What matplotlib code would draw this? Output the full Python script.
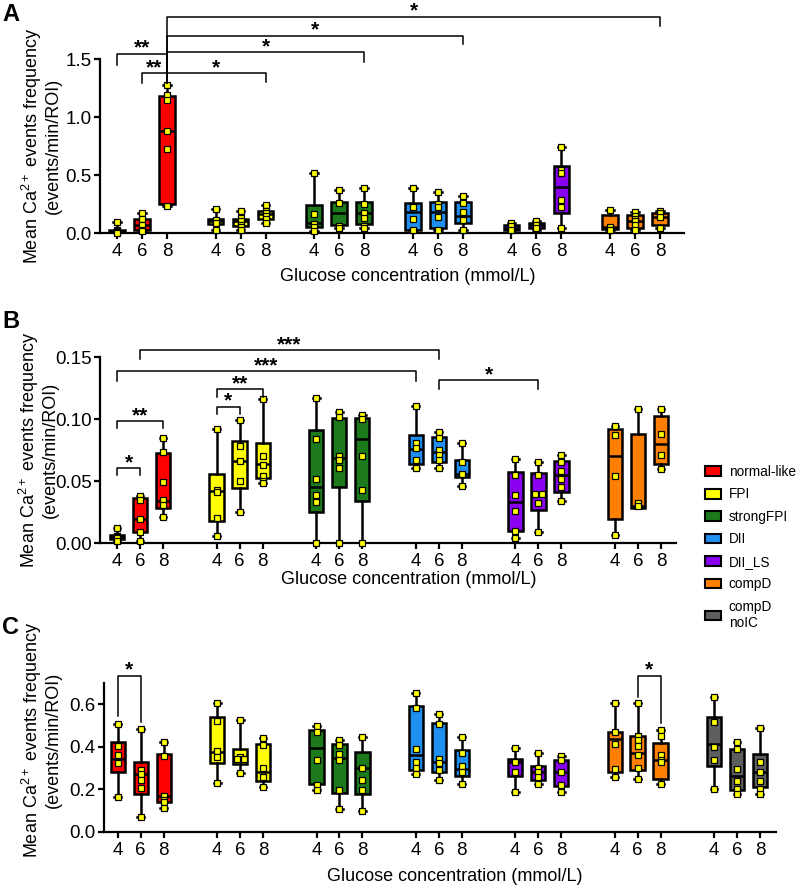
import matplotlib
matplotlib.use('Agg')
import matplotlib.pyplot as plt
from matplotlib.patches import Patch

plt.rcParams['font.family'] = ['Liberation Sans', 'DejaVu Sans']
plt.rcParams['mathtext.fontset'] = 'custom'
plt.rcParams['mathtext.rm'] = 'Liberation Sans'
plt.rcParams['mathtext.it'] = 'Liberation Sans:italic'
plt.rcParams['mathtext.bf'] = 'Liberation Sans:bold'

groups = ['normal-like', 'FPI', 'strongFPI', 'DII', 'DII_LS', 'compD', 'compD\nnoIC']
colors = ['#ff0000', '#ffff00', '#1c7a1c', '#1f8ff0', '#8a00f0', '#ff8000', '#5e5e5e']
conc = ['4', '6', '8']

# ---- panel A (6 groups x 3 glucose levels)
a_min = [0.0, 0.02, 0.23, 0.03, 0.03, 0.09, 0.02, 0.04, 0.04, 0.025, 0.025, 0.025, 0.025, 0.025, 0.04, 0.025, 0.025, 0.04]
a_q1 = [0.005, 0.03, 0.25, 0.08, 0.06, 0.125, 0.05, 0.07, 0.08, 0.03, 0.04, 0.083, 0.026, 0.043, 0.175, 0.032, 0.04, 0.072]
a_med = [0.015, 0.07, 0.88, 0.10, 0.10, 0.16, 0.09, 0.17, 0.17, 0.18, 0.18, 0.147, 0.045, 0.07, 0.40, 0.05, 0.10, 0.14]
a_q3 = [0.03, 0.125, 1.18, 0.12, 0.125, 0.19, 0.245, 0.27, 0.27, 0.255, 0.27, 0.265, 0.07, 0.089, 0.578, 0.155, 0.158, 0.175]
a_max = [0.095, 0.17, 1.28, 0.205, 0.19, 0.245, 0.52, 0.37, 0.39, 0.385, 0.355, 0.32, 0.089, 0.10, 0.744, 0.2, 0.18, 0.19]
a_pts = [[0.095, 0.03, 0.015, 0.005, 0.0], [0.17, 0.125, 0.07, 0.03, 0.02],
         [1.28, 1.19, 1.15, 0.88, 0.72, 0.23], [0.205, 0.11, 0.09, 0.03],
         [0.19, 0.13, 0.1, 0.07, 0.05, 0.03], [0.245, 0.19, 0.17, 0.15, 0.12, 0.09],
         [0.52, 0.165, 0.08, 0.05, 0.02], [0.37, 0.26, 0.06, 0.04],
         [0.39, 0.25, 0.17, 0.13, 0.06, 0.04], [0.385, 0.22, 0.12, 0.025],
         [0.355, 0.25, 0.22, 0.14, 0.025], [0.32, 0.26, 0.18, 0.11, 0.025],
         [0.089, 0.06, 0.03], [0.10, 0.07, 0.04],
         [0.744, 0.54, 0.52, 0.284, 0.222, 0.04], [0.2, 0.05, 0.03, 0.025],
         [0.18, 0.15, 0.12, 0.1, 0.07, 0.025], [0.19, 0.17, 0.14, 0.04]]
a_sig = [(0, 2, 1.545, 1.45, 1.29, '**'), (1, 2, 1.38, 1.29, 1.29, '**'),
         (2, 5, 1.38, 1.29, 1.30, '*'), (2, 8, 1.558, 1.29, 1.47, '*'),
         (2, 11, 1.70, 1.29, 1.627, '*'), (2, 17, 1.865, 1.29, 1.785, '*')]

# ---- panel B
b_min = [0.002, 0.002, 0.0206, 0.0059, 0.0246, 0.048, 0.0, 0.0, 0.0, 0.0603, 0.0603, 0.046, 0.004, 0.0088, 0.034, 0.0067, 0.028, 0.0597]
b_q1 = [0.0035, 0.0086, 0.028, 0.0174, 0.0447, 0.0522, 0.0246, 0.0455, 0.0335, 0.0638, 0.0656, 0.0536, 0.0094, 0.0268, 0.041, 0.0193, 0.028, 0.0635]
b_med = [0.0048, 0.019, 0.0335, 0.0423, 0.066, 0.0635, 0.045, 0.0683, 0.0838, 0.0758, 0.0737, 0.0555, 0.033, 0.0394, 0.0549, 0.0705, 0.03, 0.0798]
b_q3 = [0.0067, 0.036, 0.0723, 0.0555, 0.0825, 0.081, 0.091, 0.101, 0.1005, 0.087, 0.0852, 0.067, 0.0576, 0.0563, 0.066, 0.0916, 0.0876, 0.1023]
b_max = [0.012, 0.038, 0.085, 0.0916, 0.099, 0.1165, 0.117, 0.1058, 0.103, 0.1106, 0.0897, 0.0804, 0.0675, 0.065, 0.071, 0.094, 0.108, 0.108]
b_pts = [[0.012, 0.006, 0.005, 0.004, 0.002], [0.038, 0.035, 0.019, 0.009, 0.002],
         [0.085, 0.073, 0.049, 0.035, 0.031, 0.021], [0.0916, 0.043, 0.041, 0.02, 0.006],
         [0.099, 0.078, 0.066, 0.05, 0.025], [0.1165, 0.07, 0.063, 0.054, 0.05, 0.048],
         [0.117, 0.084, 0.052, 0.039, 0.033, 0.0], [0.106, 0.102, 0.0705, 0.067, 0.0603, 0.0],
         [0.103, 0.1, 0.0705, 0.043, 0.0], [0.1106, 0.0804, 0.077, 0.067, 0.0603],
         [0.0897, 0.085, 0.075, 0.071, 0.067, 0.0603], [0.0804, 0.065, 0.056, 0.046],
         [0.0675, 0.055, 0.039, 0.026, 0.01, 0.004], [0.065, 0.055, 0.0394, 0.0394, 0.032, 0.0088],
         [0.071, 0.065, 0.058, 0.052, 0.045, 0.034], [0.094, 0.087, 0.054, 0.0067],
         [0.108, 0.032, 0.0295], [0.108, 0.088, 0.071, 0.06]]
b_sig = [(0, 1, 0.0603, 0.055, 0.055, '*'), (0, 2, 0.0983, 0.0924, 0.0924, '**'),
         (3, 4, 0.1098, 0.104, 0.104, '*'), (3, 5, 0.124, 0.118, 0.118, '**'),
         (0, 9, 0.1385, 0.1307, 0.131, '***'), (1, 10, 0.1554, 0.148, 0.148, '***'),
         (10, 13, 0.1313, 0.124, 0.124, '*')]

# ---- panel C (7 groups)
c_min = [0.164, 0.07, 0.1125, 0.23, 0.277, 0.21, 0.195, 0.108, 0.1, 0.273, 0.245, 0.225, 0.186, 0.227, 0.19, 0.258, 0.248, 0.225, 0.2, 0.18, 0.18]
c_q1 = [0.284, 0.178, 0.139, 0.323, 0.319, 0.24, 0.2266, 0.183, 0.18, 0.292, 0.284, 0.261, 0.261, 0.245, 0.217, 0.281, 0.289, 0.248, 0.311, 0.198, 0.211]
c_med = [0.344, 0.272, 0.167, 0.378, 0.344, 0.28, 0.394, 0.347, 0.303, 0.3625, 0.331, 0.297, 0.33, 0.28, 0.281, 0.4375, 0.373, 0.339, 0.414, 0.264, 0.28]
c_q3 = [0.422, 0.331, 0.367, 0.539, 0.389, 0.4125, 0.48, 0.414, 0.378, 0.594, 0.514, 0.386, 0.344, 0.311, 0.336, 0.469, 0.452, 0.42, 0.539, 0.389, 0.366]
c_max = [0.506, 0.483, 0.422, 0.608, 0.527, 0.44, 0.498, 0.43, 0.448, 0.652, 0.553, 0.448, 0.394, 0.373, 0.359, 0.608, 0.608, 0.477, 0.633, 0.422, 0.49]
c_pts = [[0.506, 0.406, 0.36, 0.323, 0.164], [0.483, 0.289, 0.272, 0.242, 0.206, 0.07],
         [0.422, 0.358, 0.17, 0.15, 0.14, 0.1125], [0.608, 0.523, 0.38, 0.352, 0.23],
         [0.527, 0.352, 0.345, 0.345, 0.277], [0.44, 0.41, 0.3, 0.26, 0.21],
         [0.498, 0.469, 0.339, 0.22, 0.195], [0.43, 0.41, 0.367, 0.34, 0.198, 0.108],
         [0.448, 0.303, 0.245, 0.195, 0.1], [0.652, 0.581, 0.39, 0.327, 0.3, 0.273],
         [0.553, 0.508, 0.342, 0.323, 0.29, 0.245], [0.448, 0.373, 0.308, 0.28, 0.225],
         [0.394, 0.327, 0.281, 0.186], [0.373, 0.3, 0.28, 0.26, 0.227],
         [0.359, 0.34, 0.28, 0.22, 0.19], [0.608, 0.47, 0.4125, 0.297, 0.258],
         [0.608, 0.45, 0.43, 0.406, 0.36, 0.3, 0.248], [0.477, 0.45, 0.36, 0.34, 0.33, 0.225],
         [0.633, 0.516, 0.4, 0.34, 0.2], [0.422, 0.39, 0.295, 0.2375, 0.2, 0.18],
         [0.49, 0.328, 0.28, 0.24, 0.2, 0.18]]
c_sig = [(0, 1, 0.734, 0.545, 0.519, '*'), (16, 17, 0.734, 0.636, 0.514, '*')]


def positions(ngroups, period):
    return [g * period + i for g in range(ngroups) for i in range(3)]


def draw_panel(ax, pos, mins, q1s, meds, q3s, maxs, pts, sig, ngroups):
    stats = []
    for k in range(len(pos)):
        stats.append({'whislo': mins[k], 'q1': q1s[k], 'med': meds[k],
                      'q3': q3s[k], 'whishi': maxs[k], 'fliers': []})
    bp = ax.bxp(stats, positions=pos, widths=0.62, patch_artist=True,
                showfliers=False, capwidths=0.3,
                boxprops=dict(edgecolor='black', linewidth=1.8),
                whiskerprops=dict(color='black', linewidth=1.8),
                capprops=dict(color='black', linewidth=1.8),
                medianprops=dict(color='black', linewidth=1.8))
    for k, box in enumerate(bp['boxes']):
        box.set_facecolor(colors[k // 3])
    for k in range(len(pos)):
        xs, ys = [], []
        for v in pts[k]:
            n = pts[k].count(v)
            j = sum(1 for yy in ys if yy == v)
            xs.append(pos[k] + (j - (n - 1) / 2) * 0.3)
            ys.append(v)
        ax.plot(xs, ys, 's', ms=4.2, mfc='#ffff00', mec='black', mew=0.9,
                linestyle='none', zorder=5, clip_on=False)
    for i1, i2, yl, e1, e2, lab in sig:
        x1, x2 = pos[i1], pos[i2]
        ax.plot([x1, x1, x2, x2], [e1, yl, yl, e2], color='black', lw=1.1,
                clip_on=False, zorder=6)
        ax.text((x1 + x2) / 2, yl, lab, ha='center', va='baseline',
                fontsize=15, fontweight='bold', clip_on=False)
    ax.set_xticks(pos)
    ax.set_xticklabels(conc * ngroups)
    ax.spines['top'].set_visible(False)
    ax.spines['right'].set_visible(False)
    ax.spines['left'].set_linewidth(1.6)
    ax.spines['bottom'].set_linewidth(1.6)
    ax.tick_params(axis='both', labelsize=13.5, width=1.6, length=4.5, direction='out')
    ax.tick_params(axis='y', pad=1.5)
    ax.tick_params(axis='x', pad=2.5)
    ax.set_ylabel('Mean Ca$^{2+}$ events frequency\n(events/min/ROI)', fontsize=13,
                  linespacing=1.05)
    ax.set_xlabel('Glucose concentration (mmol/L)', fontsize=13)


fig = plt.figure(figsize=(8, 8.86), dpi=100)
W, H = 800.0, 886.0

# A
axA = fig.add_axes([100 / W, 1 - 233 / H, 584 / W, 174 / H])
posA = positions(6, 3.95)
draw_panel(axA, posA, a_min, a_q1, a_med, a_q3, a_max, a_pts, a_sig, 6)
axA.set_xlim(-0.68, 22.71)
axA.set_ylim(0, 1.5)
axA.set_yticks([0.0, 0.5, 1.0, 1.5])
axA.set_yticklabels(['0.0', '0.5', '1.0', '1.5'])
axA.yaxis.set_label_coords(-0.065, 0.5)
axA.xaxis.set_label_coords(0.527, -0.2)

# B
axB = fig.add_axes([100 / W, 1 - 543 / H, 576 / W, 186 / H])
posB = positions(6, 4.33)
draw_panel(axB, posB, b_min, b_q1, b_med, b_q3, b_max, b_pts, b_sig, 6)
axB.set_xlim(-0.74, 24.3)
axB.set_ylim(0, 0.15)
axB.set_yticks([0.0, 0.05, 0.10, 0.15])
axB.set_yticklabels(['0.00', '0.05', '0.10', '0.15'])
axB.yaxis.set_label_coords(-0.072, 0.5)
axB.xaxis.set_label_coords(0.536, -0.15)

# C
axC = fig.add_axes([104 / W, 1 - 832 / H, 672 / W, 149 / H])
posC = positions(7, 4.33)
draw_panel(axC, posC, c_min, c_q1, c_med, c_q3, c_max, c_pts, c_sig, 7)
axC.set_xlim(-0.6, 28.68)
axC.set_ylim(0, 0.7)
axC.set_yticks([0.0, 0.2, 0.4, 0.6])
axC.set_yticklabels(['0.0', '0.2', '0.4', '0.6'])
axC.yaxis.set_label_coords(-0.0625, 0.62)
axC.xaxis.set_label_coords(0.522, -0.24)

# panel letters
for lab, ypx in [('A', 3), ('B', 310), ('C', 616)]:
    fig.text(2 / W, 1 - ypx / H, lab, fontsize=17, fontweight='bold', va='top', ha='left')

handles = [Patch(facecolor=c, edgecolor='black', linewidth=1.5) for c in colors]
fig.legend(handles, groups, loc='upper left', bbox_to_anchor=(705 / W, 1 - 465 / H),
           frameon=False, fontsize=9.8, handlelength=1.15, handleheight=0.72,
           handletextpad=0.6, labelspacing=0.62, borderpad=0, borderaxespad=0)

fig.savefig('out.png', dpi=100)
